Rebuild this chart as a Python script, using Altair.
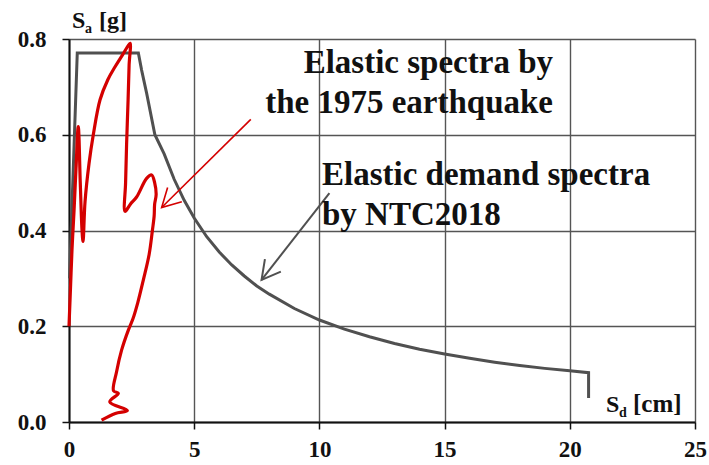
import math
import altair as alt
import pandas as pd

# Elastic response spectrum of the 1975 earthquake (ADRS format: Sd [cm], Sa [g])
quake_sd = [0.0, 0.06, 0.12, 0.20, 0.28, 0.37, 0.45, 0.52, 0.56, 0.64, 0.80, 0.97, 1.24, 1.55,
            1.84, 2.15, 2.35, 2.44, 2.40, 2.36, 2.30, 2.26, 2.24, 2.45, 2.70, 3.10, 3.30, 3.42,
            3.48, 3.42, 3.40, 3.33, 3.20, 2.97, 2.75, 2.55, 2.37, 2.10, 1.90, 1.78, 1.97, 1.63,
            2.33, 1.85, 1.30]
quake_sa = [0.20, 0.28, 0.36, 0.44, 0.53, 0.617, 0.50, 0.40, 0.377, 0.46, 0.54, 0.60, 0.673,
            0.715, 0.742, 0.768, 0.785, 0.791, 0.745, 0.673, 0.58, 0.50, 0.44, 0.455, 0.47,
            0.509, 0.516, 0.50, 0.475, 0.455, 0.43, 0.40, 0.35, 0.297, 0.25, 0.215, 0.192,
            0.15, 0.105, 0.065, 0.060, 0.042, 0.024, 0.018, 0.004]

# Elastic demand spectrum by NTC2018
ntc_sd = [0.02, 0.33, 2.77, 2.9, 3.1, 3.43, 3.8, 4.2, 4.6, 5.0, 5.5, 6.0, 6.5, 7.0, 7.5, 8.0,
          9.0, 10.0, 11.0, 12.0, 13.0, 14.0, 15.0, 16.0, 17.0, 18.0, 19.0, 20.0, 20.75, 20.75]
ntc_sa = [0.30, 0.771, 0.771, 0.735, 0.687, 0.60, 0.56, 0.507, 0.463, 0.426, 0.387, 0.355,
          0.328, 0.305, 0.284, 0.267, 0.237, 0.213, 0.194, 0.178, 0.164, 0.152, 0.142, 0.133,
          0.125, 0.118, 0.112, 0.107, 0.103, 0.05]

x_ticks = [0, 5, 10, 15, 20, 25]
y_ticks = [0.0, 0.2, 0.4, 0.6, 0.8]

# Annotation arrows: (start Sd, start Sa, tip Sd, tip Sa)
arrow_quake = (7.26, 0.632, 3.70, 0.448)
arrow_ntc = (10.4, 0.478, 7.69, 0.297)

W, H = 626, 383
PAD = {"left": 69, "top": 39, "right": 14, "bottom": 43}
SERIF = "Times New Roman, Liberation Serif, DejaVu Serif, serif"
RED = "#d40000"
GREY = "#505050"

xs = alt.Scale(domain=[0, 25], nice=False)
ys = alt.Scale(domain=[0, 0.8], nice=False)

quake = pd.DataFrame({"sd": quake_sd, "sa": quake_sa, "i": range(len(quake_sd))})
ntc = pd.DataFrame({"sd": ntc_sd, "sa": ntc_sa, "i": range(len(ntc_sd))})

x_axis = alt.Axis(values=x_ticks, title=None, labelFont=SERIF, labelFontWeight="bold",
                  labelFontSize=23, labelColor="#111", tickSize=7, tickColor="#111",
                  tickWidth=1.5, domainColor="#111", domainWidth=2, labelPadding=9,
                  gridColor="#555", gridWidth=1.4, labelFlush=False)
y_axis = alt.Axis(values=y_ticks, format=".1f", title=None, labelFont=SERIF,
                  labelFontWeight="bold", labelFontSize=23, labelColor="#111", tickSize=7,
                  tickColor="#111", tickWidth=1.5, domainColor="#111", domainWidth=2,
                  labelPadding=16, gridColor="#555", gridWidth=1.4, labelFlush=False)

ntc_line = alt.Chart(ntc).mark_line(color=GREY, strokeWidth=3).encode(
    x=alt.X("sd:Q", scale=xs, axis=x_axis),
    y=alt.Y("sa:Q", scale=ys, axis=y_axis),
    order="i:Q",
)

quake_line = alt.Chart(quake).mark_line(
    color=RED, strokeWidth=3.2, interpolate="catmull-rom"
).encode(
    x=alt.X("sd:Q", scale=xs),
    y=alt.Y("sa:Q", scale=ys),
    order="i:Q",
)


def arrow(spec, color, width):
    x0, y0, x1, y1 = spec
    shaft = alt.Chart(pd.DataFrame({"x": [x0], "y": [y0], "x2": [x1], "y2": [y1]})).mark_rule(
        color=color, strokeWidth=width
    ).encode(x=alt.X("x:Q", scale=xs), y=alt.Y("y:Q", scale=ys), x2="x2:Q", y2="y2:Q")
    # screen direction of the arrow, used to rotate the open chevron head
    dx = (x1 - x0) * W / 25
    dy = -(y1 - y0) * H / 0.8
    ang = math.degrees(math.atan2(dx, -dy)) % 360
    head = alt.Chart(pd.DataFrame({"x": [x1], "y": [y1]})).mark_point(
        shape="M -0.55 1 L 0 0 L 0.55 1", filled=False, stroke=color, strokeWidth=width,
        size=1350, angle=ang, opacity=1,
    ).encode(x=alt.X("x:Q", scale=xs), y=alt.Y("y:Q", scale=ys))
    return shaft + head


def label(text, x, y, size, align="left", baseline="alphabetic"):
    return alt.Chart(pd.DataFrame({"t": [text]})).mark_text(
        font=SERIF, fontWeight="bold", fontSize=size, color="#111", align=align,
        baseline=baseline, lineHeight=40,
    ).encode(x=alt.value(x), y=alt.value(y), text="t:N")


# axis titles with subscripts (positions relative to the plot area)
titles = (
    label("S", 72 - PAD["left"], 28 - PAD["top"], 24)
    + label("a", 85 - PAD["left"], 33 - PAD["top"], 14)
    + label("[g]", 99 - PAD["left"], 28 - PAD["top"], 24)
    + label("S", 606 - PAD["left"], 412 - PAD["top"], 24)
    + label("d", 619 - PAD["left"], 417 - PAD["top"], 14)
    + label("[cm]", 633 - PAD["left"], 412 - PAD["top"], 25)
)

notes = (
    label(["Elastic spectra by", "the 1975 earthquake"], 553 - PAD["left"], 73 - PAD["top"],
          33, align="right")
    + label(["Elastic demand spectra", "by NTC2018"], 322 - PAD["left"], 185 - PAD["top"], 33)
)

chart = (
    alt.layer(ntc_line, quake_line, arrow(arrow_quake, RED, 1.6), arrow(arrow_ntc, GREY, 2),
              titles, notes)
    .properties(width=W, height=H, autosize=alt.AutoSizeParams(type="none"), padding=PAD,
                background="white")
    .configure_view(stroke=None)
)

chart.save("out.html", embed_options={"renderer": "svg", "actions": False})
